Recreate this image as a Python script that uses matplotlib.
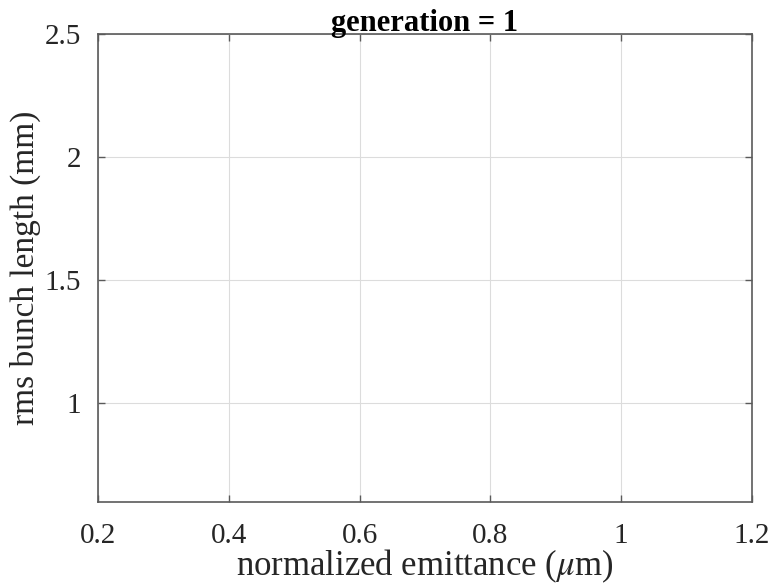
import matplotlib
matplotlib.use("Agg")
import matplotlib.pyplot as plt

plt.rcParams['font.family'] = ['Liberation Serif', 'DejaVu Serif']
plt.rcParams['mathtext.fontset'] = 'stix'

x_ticks = [0.2, 0.4, 0.6, 0.8, 1.0, 1.2]
x_tick_labels = ['0.2', '0.4', '0.6', '0.8', '1', '1.2']
y_ticks = [1.0, 1.5, 2.0, 2.5]
y_tick_labels = ['1', '1.5', '2', '2.5']
x_limits = (0.2, 1.2)
y_limits = (0.6, 2.5)
generation = 1

fig = plt.figure(figsize=(7.72, 5.84), dpi=100)
ax = fig.add_axes([98 / 772, 1 - 502 / 584, (752 - 98) / 772, (502 - 34) / 584])

ax.set_xlim(*x_limits)
ax.set_ylim(*y_limits)
ax.set_xticks(x_ticks)
ax.set_xticklabels(x_tick_labels)
ax.set_yticks(y_ticks)
ax.set_yticklabels(y_tick_labels)

ax.grid(True, color='#dcdcdc', linewidth=0.8)
ax.set_axisbelow(True)
for s in ax.spines.values():
    s.set_color('#5a5a5a')
    s.set_linewidth(1.2)
ax.tick_params(direction='in', length=5, width=1, colors='#5a5a5a',
               labelcolor='#262626', labelsize=21, top=True, right=True)
ax.tick_params(axis='x', pad=15)
ax.tick_params(axis='y', pad=12)

ax.set_xlabel(r'normalized emittance ($\mu$m)', fontsize=25, color='#262626', labelpad=-1)
ax.set_ylabel('rms bunch length (mm)', fontsize=24, color='#262626', labelpad=3)
ax.set_title(f'generation = {generation}', fontsize=22, fontweight='bold', pad=2)

fig.savefig('out.png', dpi=100)
